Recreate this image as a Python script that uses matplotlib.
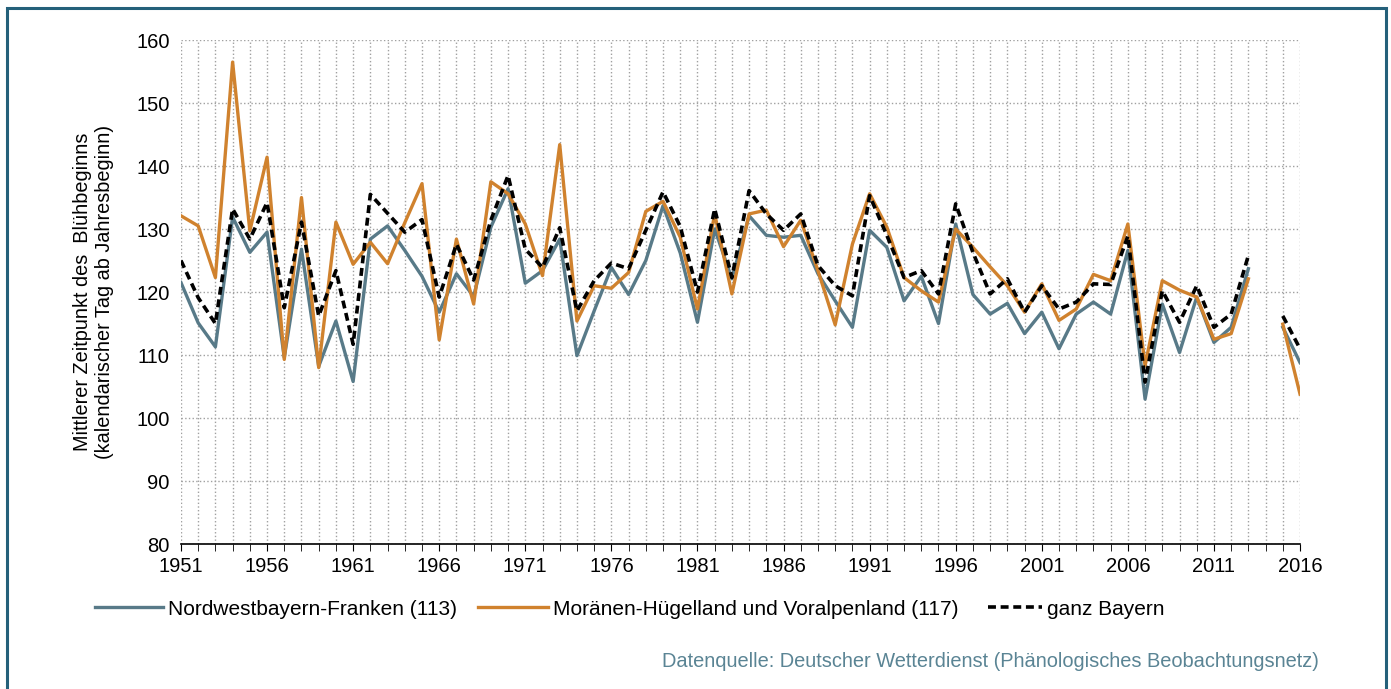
import numpy as np
import matplotlib.pyplot as plt
from matplotlib.patches import Rectangle

plt.rcParams['font.family'] = ['Liberation Sans', 'DejaVu Sans']

years = list(range(1951, 2017))

# Nordwestbayern-Franken (113)
nordwest = [121.5, 115.1, 111.3, 131.9, 126.3, 129.5, 109.6, 126.8, 108.2, 115.4,
            105.8, 128.4, 130.5, 126.6, 122.5, 116.8, 122.9, 119.3, 130.3, 136.4,
            121.4, 123.4, 128.4, 109.9, 117.0, 123.9, 119.6, 125.0, 133.7, 126.2,
            115.2, 130.0, 122.1, 132.1, 129.0, 128.7, 129.0, 122.9, 118.6, 114.4,
            129.8, 127.1, 118.6, 122.5, 115.0, 130.8, 119.6, 116.5, 118.2, 113.4,
            116.8, 111.0, 116.5, 118.4, 116.5, 126.6, 103.0, 118.1, 110.4, 119.2,
            112.0, 114.4, 123.7, np.nan, 114.4, 108.8]

# Moränen-Hügelland und Voralpenland (117)
moraenen = [132.1, 130.5, 122.3, 156.5, 129.7, 141.4, 109.3, 135.0, 108.0, 131.1,
            124.4, 127.9, 124.5, 131.0, 137.2, 112.4, 128.4, 118.1, 137.5, 135.6,
            130.8, 122.6, 143.4, 115.4, 121.0, 120.6, 123.1, 132.8, 134.4, 128.7,
            117.3, 132.4, 119.7, 132.4, 133.0, 127.2, 131.4, 123.4, 114.8, 127.6,
            135.6, 130.3, 122.3, 120.2, 118.4, 130.0, 127.1, 124.0, 121.0, 116.8,
            121.3, 115.5, 117.3, 122.8, 121.8, 130.8, 108.3, 121.8, 120.3, 119.2,
            112.5, 113.4, 122.1, np.nan, 114.9, 103.8]

# ganz Bayern
bayern = [125.0, 119.1, 115.0, 133.2, 128.4, 134.2, 117.5, 131.1, 116.2, 123.4,
          111.7, 135.5, 132.5, 129.5, 131.5, 119.2, 127.6, 121.9, 131.4, 138.5,
          126.8, 123.9, 130.2, 117.0, 121.8, 124.6, 123.7, 129.8, 135.9, 130.4,
          120.0, 133.2, 122.3, 136.1, 132.4, 129.8, 132.4, 124.2, 121.0, 119.4,
          135.3, 129.0, 122.3, 123.4, 119.7, 134.0, 126.3, 119.7, 122.1, 116.8,
          121.0, 117.3, 118.4, 121.3, 121.2, 128.9, 105.7, 120.2, 115.2, 121.0,
          114.4, 116.5, 125.8, np.nan, 116.2, 111.0]

labels = ['Nordwestbayern-Franken (113)',
          'Moränen-Hügelland und Voralpenland (117)',
          'ganz Bayern']

fig = plt.figure(figsize=(13.91, 6.89), dpi=100)
ax = fig.add_axes([0.1301, 0.2104, 0.8045, 0.7315])

l1, = ax.plot(years, nordwest, color='#587a88', lw=2.4)
l2, = ax.plot(years, moraenen, color='#d0822e', lw=2.4)
l3, = ax.plot(years, bayern, color='black', lw=2.6, ls=(0, (2.2, 1.3)))

ax.set_xlim(1951, 2016)
ax.set_ylim(80, 160)
ax.set_yticks(range(80, 161, 10))
ax.set_xticks(years, minor=True)
ax.set_xticks(range(1951, 2017, 5))
ax.tick_params(axis='both', labelsize=14.5, colors='black')
ax.tick_params(axis='y', length=0, pad=8)
ax.tick_params(axis='x', which='both', length=5, direction='out', pad=4)

ax.grid(True, which='major', axis='y', color='#a0a0a0', ls=':', lw=1)
ax.grid(True, which='both', axis='x', color='#a0a0a0', ls=':', lw=1)
ax.set_axisbelow(True)
for s in ['left', 'right', 'top']:
    ax.spines[s].set_visible(False)
ax.spines['bottom'].set_linewidth(1.2)

ax.set_ylabel('Mittlerer Zeitpunkt des  Blühbeginns\n(kalendarischer Tag ab Jahresbeginn)',
              fontsize=14.3, labelpad=16)

# legend entries placed individually like the original layout
fs = 15
for handle, text, x0, hl in [(l1, labels[0], 95, 3.25), (l2, labels[1], 478, 3.35),
                            (l3, labels[2], 988, 2.6)]:
    fig.legend([handle], [text], loc='center left', bbox_to_anchor=(x0 / 1391, 0.116),
               frameon=False, fontsize=fs, handlelength=hl, handletextpad=0.25,
               borderpad=0, borderaxespad=0)

fig.text(0.948, 0.040, 'Datenquelle: Deutscher Wetterdienst (Phänologisches Beobachtungsnetz)',
         ha='right', va='center', fontsize=14.4, color='#5a8494')

fig.patches.append(Rectangle((0.005, -0.05), 0.9915, 1.038, transform=fig.transFigure,
                             fill=False, edgecolor='#24607a', lw=2.2))

fig.savefig('out.png', dpi=100)
